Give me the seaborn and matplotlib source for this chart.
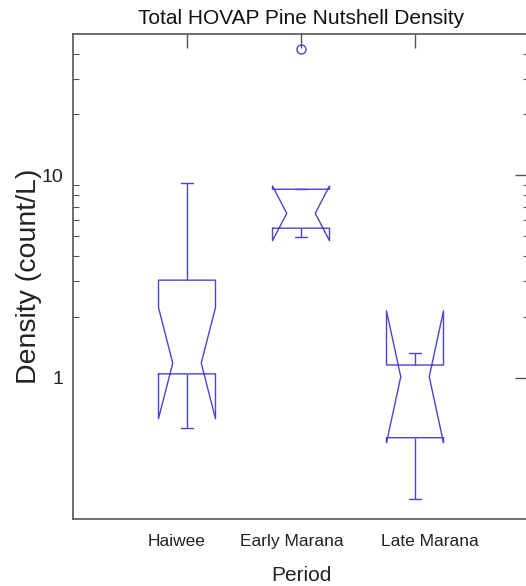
import matplotlib
matplotlib.use("Agg")
import matplotlib.pyplot as plt
import matplotlib.ticker as mticker
import matplotlib.transforms as mtransforms
import seaborn as sns
import pandas as pd

# Data (count/L)
periods = ["Haiwee", "Early Marana", "Late Marana"]
haiwee = [0.565, 1.0, 1.09, 1.18, 2.0, 4.6, 9.17]
early_marana = [4.95, 5.48, 6.49, 8.54, 42.0]
late_marana = [0.252, 1.01, 1.32]
major_ticks = [1, 10]
major_labels = ["1", "10"]
minor_ticks = [2, 3, 4, 5, 6, 7, 8, 9, 20, 30, 40]

groups = [haiwee, early_marana, late_marana]
df = pd.DataFrame({
    "Period": [p for p, g in zip(periods, groups) for _ in g],
    "Density": [v for g in groups for v in g],
})

sns.set_style("white")
plt.rcParams["font.family"] = ["Liberation Sans", "DejaVu Sans"]

blue = "#4a44d0"
spine_col = "#555555"

fig = plt.figure(figsize=(5.26, 5.86), dpi=100)
ax = fig.add_axes([73 / 526, 67 / 586, 456 / 526, 485 / 586])

sns.boxplot(
    data=df, x="Period", y="Density", order=periods, ax=ax,
    notch=True, width=0.5, fill=False, color=blue, linecolor=blue,
    linewidth=1.0, log_scale=True, whis=1.5,
    medianprops={"linewidth": 0},
    flierprops={"marker": "o", "markerfacecolor": "none",
                "markeredgecolor": blue, "markersize": 6.5,
                "markeredgewidth": 1.0},
    capwidths=0.11,
)

ax.set_xlim(-1, 3)
ax.set_ylim(0.2, 50)
ax.yaxis.set_major_locator(mticker.FixedLocator(major_ticks))
ax.yaxis.set_major_formatter(mticker.FixedFormatter(major_labels))
ax.yaxis.set_minor_locator(mticker.FixedLocator(minor_ticks))
ax.yaxis.set_minor_formatter(mticker.NullFormatter())

for s in ax.spines.values():
    s.set_visible(True)
    s.set_color(spine_col)
    s.set_linewidth(1.2)

ax.tick_params(axis="both", which="major", direction="in", length=10,
               width=1.0, color=spine_col, top=True, right=True,
               labelcolor="#222222")
ax.tick_params(axis="y", which="minor", direction="in", length=4.5,
               width=0.8, color=spine_col, left=True, right=True)
ax.tick_params(axis="x", which="major", pad=11, labelsize=12.5)
ax.tick_params(axis="y", which="major", labelsize=14, pad=7)

# the reference's category labels sit slightly off their ticks
label_shifts_px = [-10, -9, 15]
for lab, dx in zip(ax.get_xticklabels(), label_shifts_px):
    off = mtransforms.ScaledTranslation(dx / 100, 0, fig.dpi_scale_trans)
    lab.set_transform(lab.get_transform() + off)

ax.set_title("Total HOVAP Pine Nutshell Density", fontsize=15,
             color="#111111", pad=7)
ax.set_xlabel("Period", fontsize=15, color="#222222", labelpad=12)
ax.set_ylabel("Density (count/L)", fontsize=20.5, color="#222222", labelpad=0)

fig.savefig("out.png", dpi=100)
